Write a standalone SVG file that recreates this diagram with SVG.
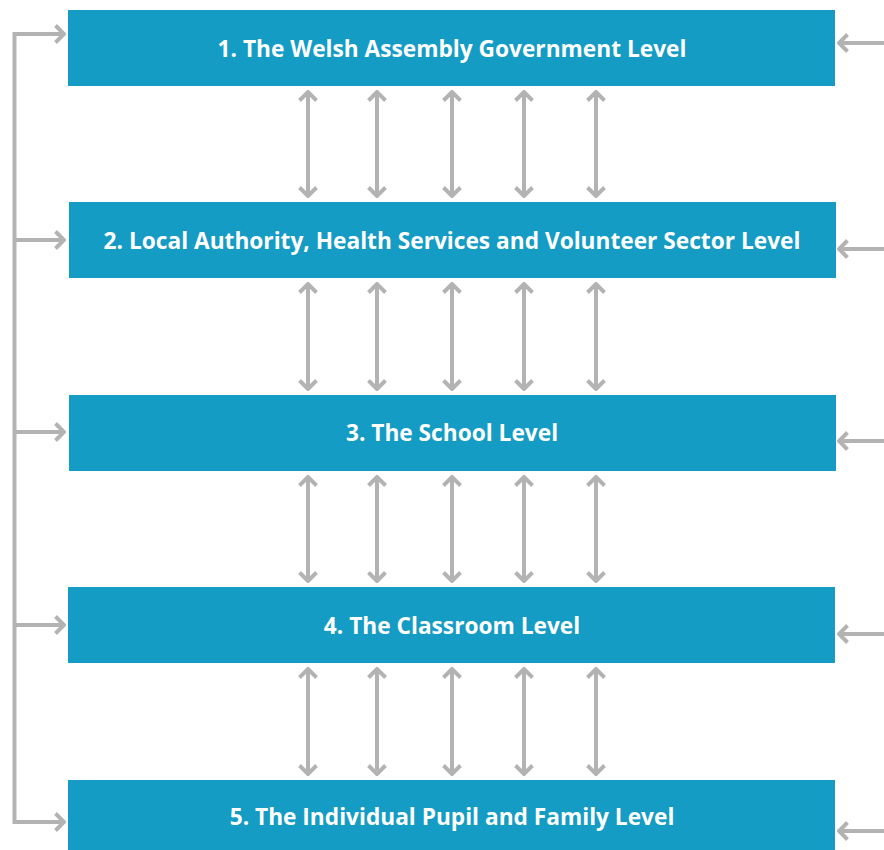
<svg xmlns="http://www.w3.org/2000/svg" width="884" height="850" viewBox="0 0 884 850">
<style>
.box{fill:#149cc4}
.lbl{fill:#fff;font-family:"Open Sans","Noto Sans",sans-serif;font-weight:bold;font-size:22.7px;text-anchor:middle}
.ln{fill:none;stroke:#b3b3b3;stroke-width:4}
</style>
<defs>
<marker id="ah" viewBox="0 0 12 20" refX="10" refY="10" markerWidth="12" markerHeight="20" markerUnits="userSpaceOnUse" orient="auto-start-reverse">
<path d="M1.5,1.5 L10,10 L1.5,18.5" fill="none" stroke="#b3b3b3" stroke-width="4"/>
</marker>
</defs>
<rect width="884" height="850" fill="#fff"/>
<g id="n1"><rect class="box" x="68" y="10" width="767" height="76"/><text class="lbl" x="452" y="57">1. The Welsh Assembly Government Level</text></g>
<g id="n2"><rect class="box" x="69" y="202" width="767" height="76"/><text class="lbl" x="452" y="249">2. Local Authority, Health Services and Volunteer Sector Level</text></g>
<g id="n3"><rect class="box" x="69" y="395" width="767" height="76"/><text class="lbl" x="452" y="441">3. The School Level</text></g>
<g id="n4"><rect class="box" x="68" y="587" width="767" height="76"/><text class="lbl" x="452" y="634">4. The Classroom Level</text></g>
<g id="n5"><rect class="box" x="68" y="780" width="767" height="70"/><text class="lbl" x="452" y="825">5. The Individual Pupil and Family Level</text></g>
<g id="connectors">
<path class="ln" d="M64,34 H14.5 V822 H64" marker-start="url(#ah)" marker-end="url(#ah)"/>
<path class="ln" d="M14.5,240 H64" marker-end="url(#ah)"/>
<path class="ln" d="M14.5,432 H64" marker-end="url(#ah)"/>
<path class="ln" d="M14.5,625 H64" marker-end="url(#ah)"/>
<path class="ln" d="M884,43 H839" marker-end="url(#ah)"/>
<path class="ln" d="M884,249 H839" marker-end="url(#ah)"/>
<path class="ln" d="M884,441 H839" marker-end="url(#ah)"/>
<path class="ln" d="M884,634 H839" marker-end="url(#ah)"/>
<path class="ln" d="M884,831 H839" marker-end="url(#ah)"/>
<g id="v1">
<path class="ln" d="M308,92 V196" marker-start="url(#ah)" marker-end="url(#ah)"/>
<path class="ln" d="M377,92 V196" marker-start="url(#ah)" marker-end="url(#ah)"/>
<path class="ln" d="M452,92 V196" marker-start="url(#ah)" marker-end="url(#ah)"/>
<path class="ln" d="M524,92 V196" marker-start="url(#ah)" marker-end="url(#ah)"/>
<path class="ln" d="M596,92 V196" marker-start="url(#ah)" marker-end="url(#ah)"/>
</g>
<g id="v2">
<path class="ln" d="M308,284 V389" marker-start="url(#ah)" marker-end="url(#ah)"/>
<path class="ln" d="M377,284 V389" marker-start="url(#ah)" marker-end="url(#ah)"/>
<path class="ln" d="M452,284 V389" marker-start="url(#ah)" marker-end="url(#ah)"/>
<path class="ln" d="M524,284 V389" marker-start="url(#ah)" marker-end="url(#ah)"/>
<path class="ln" d="M596,284 V389" marker-start="url(#ah)" marker-end="url(#ah)"/>
</g>
<g id="v3">
<path class="ln" d="M308,477 V581" marker-start="url(#ah)" marker-end="url(#ah)"/>
<path class="ln" d="M377,477 V581" marker-start="url(#ah)" marker-end="url(#ah)"/>
<path class="ln" d="M452,477 V581" marker-start="url(#ah)" marker-end="url(#ah)"/>
<path class="ln" d="M524,477 V581" marker-start="url(#ah)" marker-end="url(#ah)"/>
<path class="ln" d="M596,477 V581" marker-start="url(#ah)" marker-end="url(#ah)"/>
</g>
<g id="v4">
<path class="ln" d="M308,669 V774" marker-start="url(#ah)" marker-end="url(#ah)"/>
<path class="ln" d="M377,669 V774" marker-start="url(#ah)" marker-end="url(#ah)"/>
<path class="ln" d="M452,669 V774" marker-start="url(#ah)" marker-end="url(#ah)"/>
<path class="ln" d="M524,669 V774" marker-start="url(#ah)" marker-end="url(#ah)"/>
<path class="ln" d="M596,669 V774" marker-start="url(#ah)" marker-end="url(#ah)"/>
</g>
</g>
</svg>
